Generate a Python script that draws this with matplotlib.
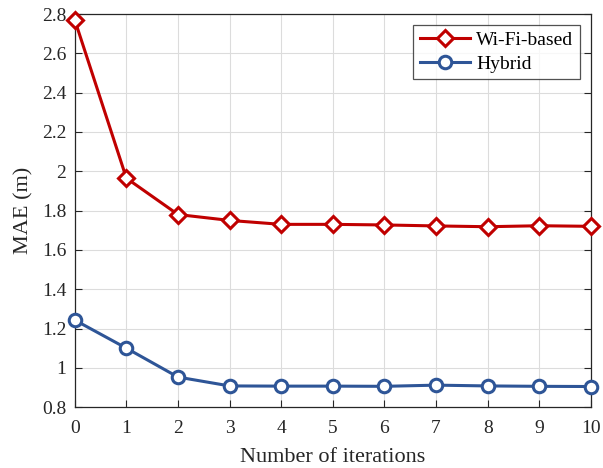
import matplotlib
matplotlib.use("Agg")
import matplotlib.pyplot as plt

iterations = list(range(11))
wifi_mae = [2.77, 1.965, 1.78, 1.75, 1.73, 1.73, 1.727, 1.722, 1.718, 1.723, 1.72]
hybrid_mae = [1.243, 1.10, 0.953, 0.908, 0.907, 0.907, 0.906, 0.912, 0.908, 0.906, 0.905]
yticks = [0.8, 1, 1.2, 1.4, 1.6, 1.8, 2, 2.2, 2.4, 2.6, 2.8]
ytick_labels = ["0.8", "1", "1.2", "1.4", "1.6", "1.8", "2", "2.2", "2.4", "2.6", "2.8"]

plt.rcParams['font.family'] = ['Liberation Serif', 'DejaVu Serif']
fig = plt.figure(figsize=(6.03, 4.68), dpi=100)
ax = fig.add_axes([0.124, 0.130, 0.856, 0.840])

ax.plot(iterations, wifi_mae, color='#c00000', lw=2.2, marker='D', markersize=8,
        markerfacecolor='white', markeredgewidth=2.2, label='Wi-Fi-based', zorder=3, clip_on=False)
ax.plot(iterations, hybrid_mae, color='#2e5597', lw=2.2, marker='o', markersize=9,
        markerfacecolor='white', markeredgewidth=2.2, label='Hybrid', zorder=3, clip_on=False)

ax.set_xlim(0, 10)
ax.set_ylim(0.8, 2.8)
ax.set_xticks(iterations)
ax.set_yticks(yticks)
ax.set_yticklabels(ytick_labels)
ax.grid(True, color='#dcdcdc', lw=0.8)
ax.set_axisbelow(True)
ax.tick_params(direction='in', labelsize=14, colors='#262626', length=5, top=False, right=True)
ax.tick_params(axis='x', pad=9)
ax.tick_params(axis='y', pad=6)
for s in ax.spines.values():
    s.set_color('#262626')
    s.set_linewidth(0.9)
ax.set_xlabel('Number of iterations', fontsize=16, color='#262626', labelpad=8)
ax.set_ylabel('MAE (m)', fontsize=16, color='#262626', labelpad=6)
leg = ax.legend(loc='upper right', fontsize=14, frameon=True, fancybox=False,
                edgecolor='#262626', handlelength=2.6, borderpad=0.35, labelspacing=0.3,
                handletextpad=0.3, borderaxespad=0.55)
leg.get_frame().set_linewidth(0.9)
fig.savefig('out.png', dpi=100)
